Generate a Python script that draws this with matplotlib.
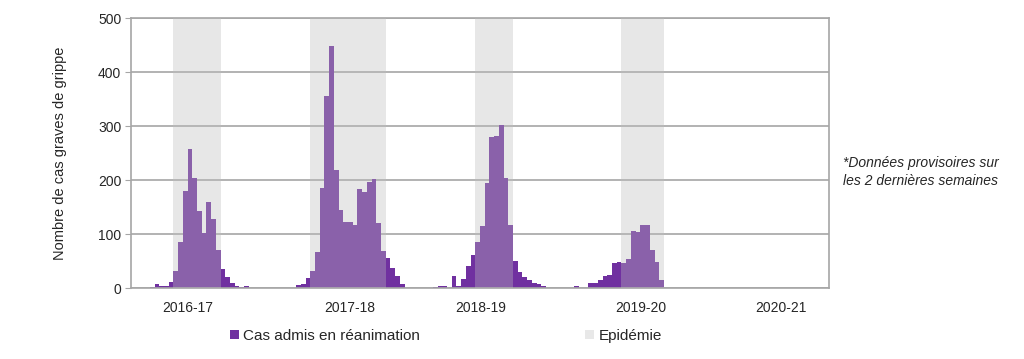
import matplotlib
matplotlib.use("Agg")
import matplotlib.pyplot as plt
from matplotlib.patches import Patch
import numpy as np

plt.rcParams['font.family'] = ['Liberation Sans', 'DejaVu Sans']

# Weekly ICU admissions (one value per displayed week, 148 weeks)
weekly_cases = (
    [0, 0, 0, 0, 1, 8, 3, 4, 12, 31, 85, 180, 257, 204, 142, 102, 159, 128, 71, 36,
     20, 9, 3, 1, 4]
    + [0] * 10
    + [5, 8, 18, 32, 67, 186, 355, 449, 218, 145, 123, 123, 116, 183, 177, 196, 202,
       120, 68, 56, 37, 22, 8]
    + [0] * 6
    + [2, 3, 4, 0, 23, 4, 16, 41, 61, 85, 115, 194, 280, 282, 301, 204, 117, 50, 29,
       21, 14, 9, 8, 3]
    + [0] * 6
    + [3, 0, 0, 9, 9, 15, 23, 24, 47, 49, 46, 54, 105, 104, 117, 116, 71, 49, 14]
    + [0] * 35
)

# Epidemic periods (start week index, end week index, exclusive)
epidemic_start = [9, 38, 73, 104]
epidemic_end = [19, 54, 81, 113]

season_labels = ["2016-17", "2017-18", "2018-19", "2019-20", "2020-21"]
season_label_pos = [12.1, 46.4, 74.2, 108.0, 137.9]

yticks = [0, 100, 200, 300, 400, 500]

fig = plt.figure(figsize=(10.24, 3.59), dpi=100)
ax = fig.add_axes([131 / 1024, 71 / 359, 698 / 1024, 270 / 359])

x = np.arange(len(weekly_cases))
ax.bar(x, weekly_cases, width=1.0, align='edge', color='#7030A0', zorder=2,
       linewidth=0)

for s, e in zip(epidemic_start, epidemic_end):
    ax.axvspan(s, e, color=(189 / 255, 189 / 255, 189 / 255), alpha=0.35,
               linewidth=0, zorder=3)

ax.set_xlim(0, len(weekly_cases))
ax.set_ylim(0, 500)
ax.set_yticks(yticks)
ax.yaxis.grid(True, color='#a6a6a6', linewidth=1.2, zorder=1)
ax.set_axisbelow(True)
ax.tick_params(axis='y', length=4, color='#a6a6a6', labelsize=10, pad=3,
               labelcolor='#262626')
ax.set_xticks(season_label_pos)
ax.set_xticklabels(season_labels)
ax.tick_params(axis='x', length=0, labelsize=10, pad=9, labelcolor='#262626')
for sp in ax.spines.values():
    sp.set_color('#a6a6a6')
    sp.set_linewidth(1.2)

ax.set_ylabel("Nombre de cas graves de grippe", fontsize=10.5, color='#262626',
              labelpad=22)

fig.text(843 / 1024, 1 - 172 / 359, "*Données provisoires sur\nles 2 dernières semaines",
         fontsize=10, style='italic', color='#262626', va='center', ha='left',
         linespacing=1.3)

handles = [Patch(facecolor='#7030A0', edgecolor='none'),
           Patch(facecolor='#e8e8e8', edgecolor='none')]
fig.legend(handles, ["Cas admis en réanimation", "Epidémie"], loc='center',
           bbox_to_anchor=(446 / 1024, 1 - 336 / 359), ncol=2, frameon=False,
           fontsize=11, handlelength=0.6, handleheight=0.6, handletextpad=0.3,
           columnspacing=10.8, labelcolor='#262626')

fig.savefig("out.png", dpi=100)
